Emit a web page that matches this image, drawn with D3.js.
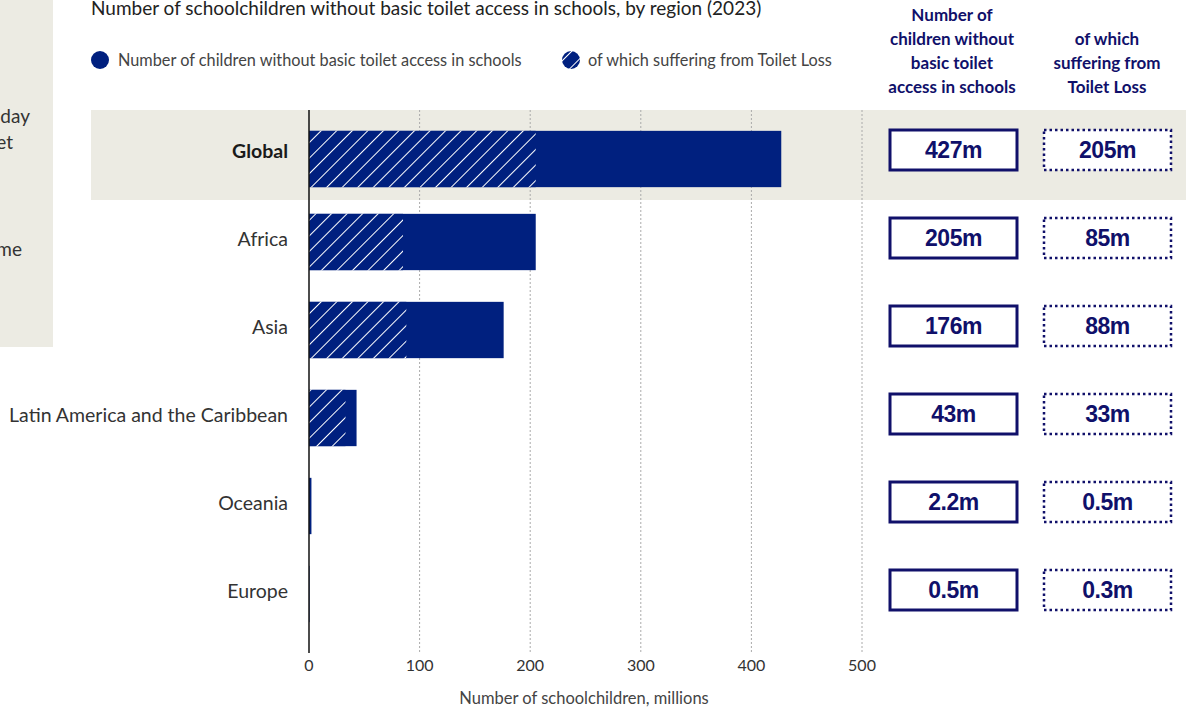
<!DOCTYPE html>
<html>
<head>
<meta charset="utf-8">
<script src="https://cdn.jsdelivr.net/npm/d3@7"></script>
<style>
  body { margin: 0; background: #fff; }
  svg { display: block; font-family: Lato, "Open Sans", sans-serif; }
</style>
</head>
<body>
<svg id="chart" width="1186" height="708"></svg>
<script>
// data
var regions = ["Global", "Africa", "Asia", "Latin America and the Caribbean", "Oceania", "Europe"];
var totalMillions = [427, 205, 176, 43, 2.2, 0.5];
var toiletLossMillions = [205, 85, 88, 33, 0.5, 0.3];
var totalLabels = ["427m", "205m", "176m", "43m", "2.2m", "0.5m"];
var lossLabels = ["205m", "85m", "88m", "33m", "0.5m", "0.3m"];
var xTicks = [0, 100, 200, 300, 400, 500];

var navy = "#00207f", boxNavy = "#10106a", grey = "#ecebe3";

var svg = d3.select("#chart");

var x = d3.scaleLinear().domain([0, 500]).range([309, 862]);
var y = d3.scaleBand().domain(regions).range([107, 635]).paddingInner(0.36).paddingOuter(0.18);

// hatch pattern
var defs = svg.append("defs");
var pat = defs.append("pattern")
  .attr("id", "hatch")
  .attr("patternUnits", "userSpaceOnUse")
  .attr("width", 11).attr("height", 11)
  .attr("patternTransform", "rotate(45)");
pat.append("rect").attr("width", 11).attr("height", 11).attr("fill", navy);
pat.append("line").attr("x1", 0).attr("y1", 0).attr("x2", 0).attr("y2", 11)
  .attr("stroke", "#fff").attr("stroke-width", 2);

// left side panel (cut off)
svg.append("rect").attr("x", 0).attr("y", 0).attr("width", 53).attr("height", 347).attr("fill", grey);
var sideText = [["day", 30, 123], ["et", 13, 149], ["me", 22, 256]];
svg.selectAll(".side").data(sideText).enter().append("text")
  .attr("x", function(d){ return d[1]; }).attr("y", function(d){ return d[2]; })
  .attr("text-anchor", "end")
  .attr("font-size", 19).attr("fill", "#333")
  .text(function(d){ return d[0]; });

// global highlight band
svg.append("rect").attr("x", 91).attr("y", 110).attr("width", 1186 - 91).attr("height", 90).attr("fill", grey);

// title
svg.append("text").attr("x", 91).attr("y", 15)
  .attr("font-size", 19).attr("fill", "#222")
  .text("Number of schoolchildren without basic toilet access in schools, by region (2023)");

// legend
svg.append("circle").attr("cx", 100).attr("cy", 60).attr("r", 9).attr("fill", navy);
svg.append("text").attr("x", 118).attr("y", 66).attr("font-size", 16.3).attr("fill", "#444")
  .text("Number of children without basic toilet access in schools");
svg.append("circle").attr("cx", 571).attr("cy", 60).attr("r", 9).attr("fill", "url(#hatch)");
svg.append("text").attr("x", 588).attr("y", 66).attr("font-size", 16.3).attr("fill", "#444")
  .text("of which suffering from Toilet Loss");

// gridlines
svg.selectAll(".grid").data(xTicks.slice(1)).enter().append("line")
  .attr("x1", function(d){ return x(d); }).attr("x2", function(d){ return x(d); })
  .attr("y1", 110).attr("y2", 652)
  .attr("stroke", "#aaa").attr("stroke-width", 1).attr("stroke-dasharray", "2,2");

// bars
var rows = regions.map(function(r, i){
  return { region: r, total: totalMillions[i], loss: toiletLossMillions[i], tl: totalLabels[i], ll: lossLabels[i] };
});

svg.selectAll(".bar").data(rows).enter().append("rect")
  .attr("x", x(0))
  .attr("y", function(d, i){ return y(d.region) + (i === 0 ? 8 : 3); })
  .attr("width", function(d){ return x(d.total) - x(0); })
  .attr("height", y.bandwidth())
  .attr("fill", navy);

svg.selectAll(".hbar").data(rows.filter(function(d){ return d.loss > 1; })).enter().append("rect")
  .attr("x", x(0))
  .attr("y", function(d, i){ return y(d.region) + (i === 0 ? 8 : 3); })
  .attr("width", function(d){ return x(d.loss) - x(0); })
  .attr("height", y.bandwidth())
  .attr("fill", "url(#hatch)");

// y axis line
svg.append("line").attr("x1", x(0)).attr("x2", x(0)).attr("y1", 110).attr("y2", 653)
  .attr("stroke", "#111").attr("stroke-width", 1.5);

// category labels
svg.selectAll(".cat").data(rows).enter().append("text")
  .attr("x", 288)
  .attr("y", function(d){ return y(d.region) + y.bandwidth() / 2; })
  .attr("dy", "0.35em")
  .attr("text-anchor", "end")
  .attr("font-size", 19.5)
  .attr("font-weight", function(d){ return d.region === "Global" ? 700 : 400; })
  .attr("fill", function(d){ return d.region === "Global" ? "#1a1a1a" : "#333"; })
  .text(function(d){ return d.region; });

// x tick labels
svg.selectAll(".tick").data(xTicks).enter().append("text")
  .attr("x", function(d){ return x(d); }).attr("y", 671)
  .attr("text-anchor", "middle").attr("font-size", 16).attr("fill", "#333")
  .text(function(d){ return d; });

svg.append("text").attr("x", 584).attr("y", 704)
  .attr("text-anchor", "middle").attr("font-size", 16.5).attr("fill", "#444")
  .text("Number of schoolchildren, millions");

// column headers
var head1 = ["Number of", "children without", "basic toilet", "access in schools"];
var head2 = ["of which", "suffering from", "Toilet Loss"];
svg.selectAll(".h1").data(head1).enter().append("text")
  .attr("x", 952).attr("y", function(d, i){ return 21 + i * 24; })
  .attr("text-anchor", "middle").attr("font-size", 17).attr("font-weight", 700).attr("fill", boxNavy)
  .text(function(d){ return d; });
svg.selectAll(".h2").data(head2).enter().append("text")
  .attr("x", 1107).attr("y", function(d, i){ return 45 + i * 24; })
  .attr("text-anchor", "middle").attr("font-size", 17).attr("font-weight", 700).attr("fill", boxNavy)
  .text(function(d){ return d; });

// value boxes
var boxW = 127, boxH = 40;
var g1 = svg.selectAll(".box1").data(rows).enter().append("g")
  .attr("transform", function(d){ return "translate(890," + (y(d.region) + y.bandwidth() / 2 - boxH / 2 - 1) + ")"; });
g1.append("rect").attr("width", boxW).attr("height", boxH)
  .attr("fill", "#fff").attr("stroke", boxNavy).attr("stroke-width", 3);
g1.append("text").attr("x", boxW / 2).attr("y", boxH / 2).attr("dy", "0.36em")
  .attr("text-anchor", "middle").attr("font-family", "'Liberation Sans', Arial, sans-serif")
  .attr("font-size", 23).attr("font-weight", 700).attr("fill", boxNavy).attr("letter-spacing", "-0.5")
  .text(function(d){ return d.tl; });

var g2 = svg.selectAll(".box2").data(rows).enter().append("g")
  .attr("transform", function(d){ return "translate(1044," + (y(d.region) + y.bandwidth() / 2 - boxH / 2 - 1) + ")"; });
g2.append("rect").attr("width", boxW).attr("height", boxH)
  .attr("fill", "#fff").attr("stroke", boxNavy).attr("stroke-width", 2.5).attr("stroke-dasharray", "2.5,3");
g2.append("text").attr("x", boxW / 2).attr("y", boxH / 2).attr("dy", "0.36em")
  .attr("text-anchor", "middle").attr("font-family", "'Liberation Sans', Arial, sans-serif")
  .attr("font-size", 23).attr("font-weight", 700).attr("fill", boxNavy).attr("letter-spacing", "-0.5")
  .text(function(d){ return d.ll; });
</script>
</body>
</html>
